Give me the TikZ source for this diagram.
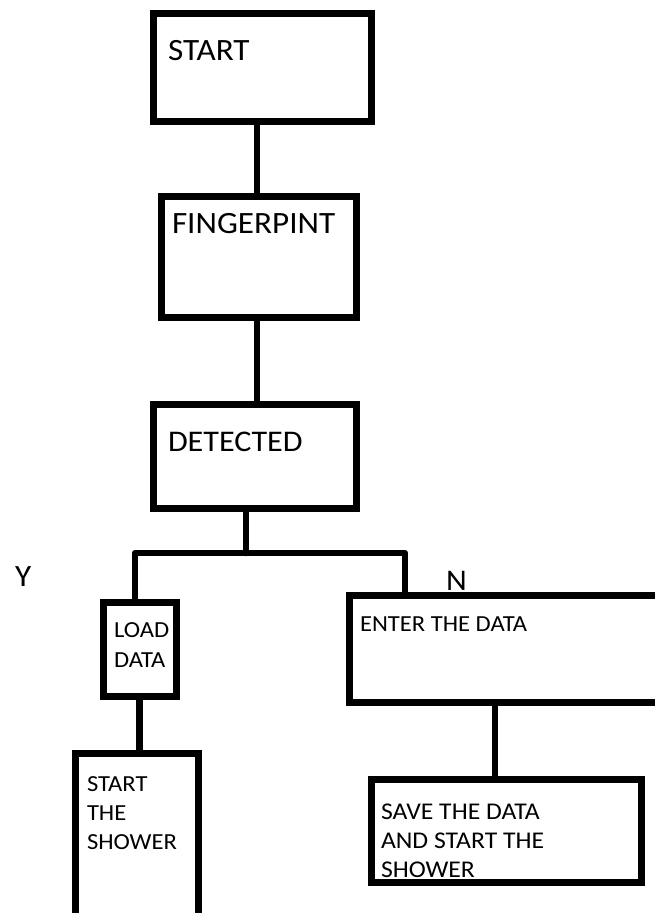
\documentclass[tikz,border=0pt]{standalone}
\usepackage{fontspec}
\setmainfont{Carlito}[FakeStretch=1.07]
\begin{document}
\begin{tikzpicture}[x=1pt,y=-1pt,
  box/.style={draw=black,line width=7pt,rectangle,inner sep=0pt,fill=none},
  conn/.style={draw=black,line width=6.5pt,line cap=round,line join=round},
  lbl/.style={anchor=base west,inner sep=0pt,outer sep=0pt,text=black},
  big/.style={lbl,font=\fontsize{31}{37}\selectfont},
  mid/.style={lbl,font=\fontsize{23}{28}\selectfont}]
\useasboundingbox (0,0) rectangle (655,913);
\clip (0,0) rectangle (655,913);
\fill[white] (0,0) rectangle (655,913);
% boxes
\node[box,minimum width=218pt,minimum height=108pt] (start) at (262.5,67.5) {};
\node[box,minimum width=195.5pt,minimum height=120.5pt] (fing) at (258.75,256.75) {};
\node[box,minimum width=203pt,minimum height=104.5pt] (det) at (255,456.25) {};
\node[box,minimum width=73pt,minimum height=93.5pt] (load) at (140,649.25) {};
\node[box,minimum width=122.5pt,minimum height=196.5pt] (shower) at (136.75,851.75) {};
\node[box,minimum width=330.5pt,minimum height=107pt] (enter) at (514.75,648.5) {};
\node[box,minimum width=270.5pt,minimum height=103pt] (save) at (506.25,831) {};
% columns
\coordinate (xa) at (257,0);
\coordinate (xb) at (246,0);
\coordinate (jl) at (135,553);
\coordinate (jm) at (246,553);
\coordinate (jr) at (405,553);
\coordinate (xc) at (139.5,0);
\coordinate (xd) at (495,0);
% connectors
\draw[conn] (start.south -| xa) -- (fing.north -| xa);
\draw[conn] (fing.south -| xa) -- (det.north -| xa);
\draw[conn] (det.south -| xb) -- (jm);
\draw[conn] (load.north -| jl) -- (jl) -- (jr) -- (enter.north -| jr);
\draw[conn] (load.south -| xc) -- (shower.north -| xc);
\draw[conn] (enter.south -| xd) -- (save.north -| xd);
% texts
\node[big] (tstart) at (168,60) {START};
\node[big] (tfing) at (172,233) {FINGERPINT};
\node[big,font=\fontsize{30}{36}\selectfont] (tdet) at (168,451) {DETECTED};
\node[big] (ty) at (15,586) {Y};
\node[big,font=\fontsize{30}{36}\selectfont] (tn) at (446,590) {N};
\node[mid] (tload1) at (114,637) {LOAD};
\node[mid] (tload2) at (114,667) {DATA};
\node[mid] (tenter) at (360,631) {ENTER THE DATA};
\node[mid] (tsh1) at (87,791) {START};
\node[mid] (tsh2) at (87,820) {THE};
\node[mid] (tsh3) at (87,849) {SHOWER};
\node[mid,font=\fontsize{24}{29}\selectfont] (tsv1) at (381,819) {SAVE THE DATA};
\node[mid,font=\fontsize{24}{29}\selectfont] (tsv2) at (381,848) {AND START THE};
\node[mid,font=\fontsize{24}{29}\selectfont] (tsv3) at (381,877) {SHOWER};
\end{tikzpicture}
\end{document}
